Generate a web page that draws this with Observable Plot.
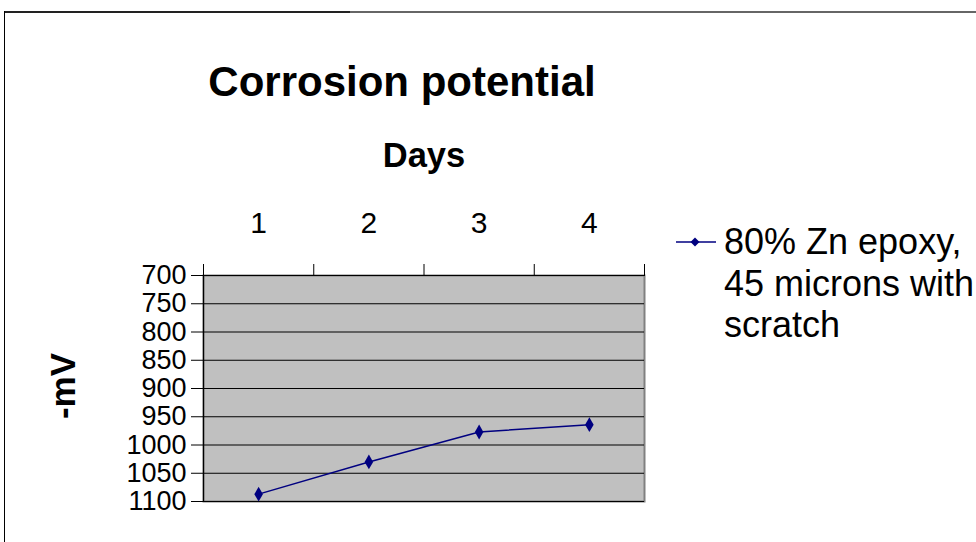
<!DOCTYPE html>
<html>
<head>
<meta charset="utf-8">
<script src="https://cdn.jsdelivr.net/npm/d3@7"></script>
<script src="https://cdn.jsdelivr.net/npm/@observablehq/plot@0.6"></script>
<style>
  html, body { margin: 0; padding: 0; background: #fff; }
  #wrap { position: relative; width: 976px; height: 542px; overflow: hidden; font-family: "Liberation Sans", Arial, sans-serif; color: #000; }
  #chart { position: absolute; left: 0; top: 0; }
  .t { position: absolute; line-height: 1; white-space: nowrap; transform: translate(-50%, -50%); }
  #title { left: 402px; top: 82px; font-size: 42px; font-weight: bold; }
  #xlab { left: 424px; top: 155px; font-size: 34.5px; font-weight: bold; }
  #ylab { left: 62px; top: 386px; font-size: 35px; font-weight: bold; transform: translate(-50%, -50%) rotate(-90deg); }
  #legend { position: absolute; left: 674px; top: 221px; font-size: 36px; line-height: 41.5px; }
  #legend svg { position: absolute; left: 0; top: 13px; }
  #legend .txt { position: absolute; left: 50px; top: 0; white-space: nowrap; }
  #bt1 { position: absolute; left: 5px; top: 11px; width: 345px; height: 0; border-top: 2px solid #222; }
  #bt2 { position: absolute; left: 350px; top: 11px; width: 640px; height: 0; border-top: 2px solid #666; }
  #bl { position: absolute; left: 4px; top: 11px; width: 0; height: 540px; border-left: 1px solid #000; }
</style>
</head>
<body>
<div id="wrap">
  <div id="bt1"></div><div id="bt2"></div><div id="bl"></div>
  <div id="chart"></div>
  <div class="t" id="title">Corrosion potential</div>
  <div class="t" id="xlab">Days</div>
  <div class="t" id="ylab">-mV</div>
  <div id="legend">
    <svg width="44" height="16"><line x1="2" y1="8" x2="42" y2="8" stroke="#000080" stroke-width="1.5"/><path d="M21,3.5 L25.5,8 L21,12.5 L16.5,8 Z" fill="#000080"/></svg>
    <div class="txt" id="legtxt"></div>
  </div>
</div>
<script>
const days = [1, 2, 3, 4];
const potential = [1087, 1030, 977, 964];
const seriesName = ["80% Zn epoxy,", "45 microns with", "scratch"];
const yTicks = [700, 750, 800, 850, 900, 950, 1000, 1050, 1100];
const xBounds = [0.5, 1.5, 2.5, 3.5, 4.5];

const data = days.map((d, i) => ({day: d, mv: potential[i]}));

document.getElementById("legtxt").innerHTML = seriesName.join("<br>");

const chart = Plot.plot({
  width: 976,
  height: 542,
  marginLeft: 203,
  marginRight: 332,
  marginTop: 275,
  marginBottom: 41,
  style: {fontFamily: "'Liberation Sans', Arial, sans-serif", fontSize: "27px", background: "transparent", color: "#000", overflow: "visible"},
  x: {type: "linear", domain: [0.5, 4.5]},
  y: {domain: [700, 1100], reverse: true},
  marks: [
    Plot.frame({fill: "#C0C0C0", stroke: "#808080", strokeWidth: 2}),
    Plot.gridY(yTicks, {stroke: "#000", strokeOpacity: 1, strokeWidth: 1}),
    Plot.ruleX([0.5], {stroke: "#000", strokeWidth: 1.2}),
    Plot.ruleY([700], {stroke: "#000", strokeWidth: 1.2}),
    Plot.axisY(yTicks, {anchor: "left", tickSize: 12, tickPadding: 5, fontSize: 27, label: null, tickFormat: d => String(d)}),
    Plot.axisX(xBounds, {anchor: "top", tickSize: 12, tickFormat: () => "", label: null}),
    Plot.axisX(days, {anchor: "top", tickSize: 0, tickPadding: 43, fontSize: 30, label: null, tickFormat: d => String(d)}),
    Plot.line(data, {x: "day", y: "mv", stroke: "#000080", strokeWidth: 1.5}),
    Plot.dot(data, {x: "day", y: "mv", symbol: "diamond", fill: "#000080", stroke: "none", r: 4.5})
  ]
});
document.getElementById("chart").appendChild(chart);
</script>
</body>
</html>
